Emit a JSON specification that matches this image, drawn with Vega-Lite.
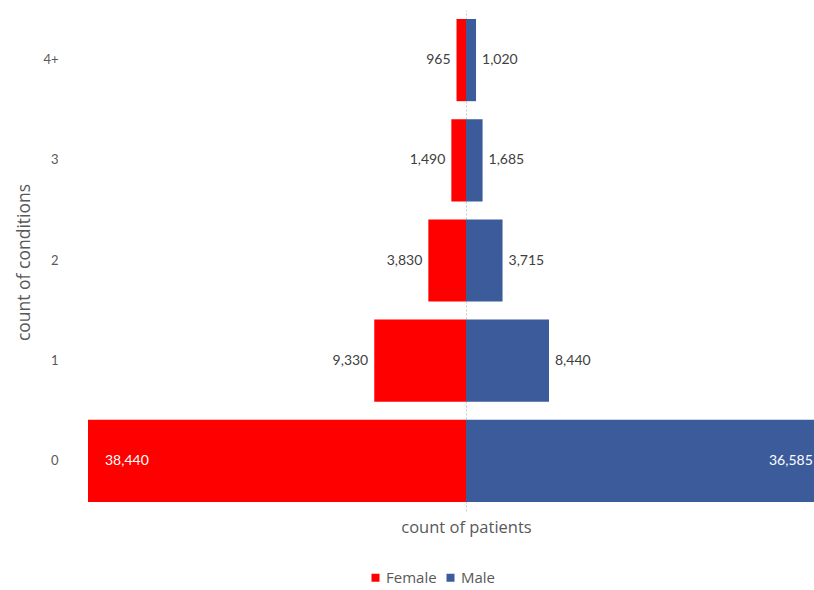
{
  "$schema": "https://vega.github.io/schema/vega-lite/v6.json",
  "width": 726,
  "height": 501,
  "autosize": "none",
  "padding": {"left": 88, "top": 10, "right": 0, "bottom": 79},
  "background": "white",
  "config": {
    "view": {"stroke": null},
    "font": "Lato",
    "text": {"font": "Lato", "fontSize": 14, "color": "#404040"}
  },
  "data": {
    "values": [
      {"conditions": "4+", "sex": "Female", "count": 965, "signed": -965},
      {"conditions": "4+", "sex": "Male", "count": 1020, "signed": 1020},
      {"conditions": "3", "sex": "Female", "count": 1490, "signed": -1490},
      {"conditions": "3", "sex": "Male", "count": 1685, "signed": 1685},
      {"conditions": "2", "sex": "Female", "count": 3830, "signed": -3830},
      {"conditions": "2", "sex": "Male", "count": 3715, "signed": 3715},
      {"conditions": "1", "sex": "Female", "count": 9330, "signed": -9330},
      {"conditions": "1", "sex": "Male", "count": 8440, "signed": 8440},
      {"conditions": "0", "sex": "Female", "count": 38440, "signed": -38440},
      {"conditions": "0", "sex": "Male", "count": 36585, "signed": 36585}
    ]
  },
  "encoding": {
    "y": {
      "field": "conditions",
      "type": "nominal",
      "sort": ["4+", "3", "2", "1", "0"],
      "scale": {"paddingInner": 0.18, "paddingOuter": 0.09},
      "axis": {
        "title": "count of conditions",
        "titleFont": "Open Sans",
        "titleFontSize": 17.5,
        "titleFontWeight": "normal",
        "titleColor": "#595959",
        "titleX": -64,
        "titleY": 252,
        "titleAngle": -90,
        "titleAlign": "center",
        "titleBaseline": "middle",
        "labelFont": "Lato",
        "labelFontSize": 13,
        "labelColor": "#595959",
        "labelPadding": 30,
        "labelAngle": 0,
        "domain": false,
        "ticks": false
      }
    }
  },
  "layer": [
    {
      "mark": {"type": "bar", "clip": true},
      "encoding": {
        "x": {
          "field": "signed",
          "type": "quantitative",
          "scale": {"domain": [-38440, 35388], "nice": false, "zero": true},
          "axis": {
            "values": [0],
            "labels": false,
            "ticks": false,
            "domain": false,
            "grid": true,
            "gridColor": "#c8c8c8",
            "gridDash": [2, 2],
            "title": "count of patients",
            "titleFont": "Open Sans",
            "titleFontSize": 16.5,
            "titleFontWeight": "normal",
            "titleColor": "#595959",
            "titleX": 378,
            "titlePadding": 8
          }
        },
        "color": {
          "field": "sex",
          "type": "nominal",
          "scale": {"domain": ["Female", "Male"], "range": ["#ff0000", "#3b5b9b"]},
          "legend": {
            "title": null,
            "orient": "none",
            "direction": "horizontal",
            "legendX": 280,
            "legendY": 560,
            "symbolType": "square",
            "symbolSize": 64,
            "symbolStrokeWidth": 0,
            "labelFont": "Open Sans",
            "labelFontSize": 15,
            "labelColor": "#595959",
            "labelOffset": 3,
            "columnPadding": 6
          }
        }
      }
    },
    {
      "transform": [{"filter": "datum.conditions !== '0' && datum.sex === 'Female'"}],
      "mark": {"type": "text", "align": "right", "baseline": "middle", "dx": -6},
      "encoding": {
        "x": {"field": "signed", "type": "quantitative"},
        "text": {"field": "count", "type": "quantitative", "format": ","}
      }
    },
    {
      "transform": [{"filter": "datum.conditions !== '0' && datum.sex === 'Male'"}],
      "mark": {"type": "text", "align": "left", "baseline": "middle", "dx": 6},
      "encoding": {
        "x": {"field": "signed", "type": "quantitative"},
        "text": {"field": "count", "type": "quantitative", "format": ","}
      }
    },
    {
      "transform": [{"filter": "datum.conditions === '0' && datum.sex === 'Female'"}],
      "mark": {"type": "text", "align": "left", "baseline": "middle", "dx": 17, "color": "white"},
      "encoding": {
        "x": {"field": "signed", "type": "quantitative"},
        "text": {"field": "count", "type": "quantitative", "format": ","}
      }
    },
    {
      "transform": [{"filter": "datum.conditions === '0' && datum.sex === 'Male'"}],
      "mark": {"type": "text", "align": "right", "baseline": "middle", "dx": -13, "color": "white"},
      "encoding": {
        "x": {"field": "signed", "type": "quantitative"},
        "text": {"field": "count", "type": "quantitative", "format": ","}
      }
    }
  ]
}
